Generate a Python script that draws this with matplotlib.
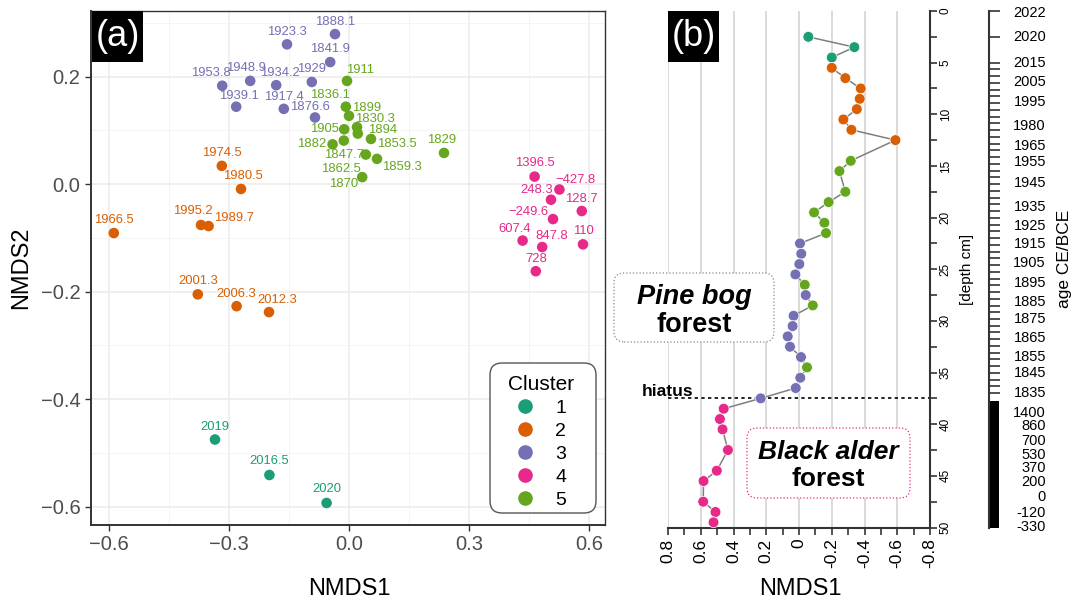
import numpy as np
import matplotlib
matplotlib.use("Agg")
import matplotlib.pyplot as plt
import matplotlib.transforms as mtransforms
from matplotlib.lines import Line2D
from matplotlib.patches import Rectangle, FancyBboxPatch

plt.rcParams['font.family'] = ['Liberation Sans', 'DejaVu Sans']

# cluster colours (Dark2)
colors = {1: '#1B9E77', 2: '#D95F02', 3: '#7570B3', 4: '#E7298A', 5: '#66A61E'}

# ---- panel (a): NMDS ordination ----
lab_a = ['2019', '2016.5', '2020',
         '1974.5', '1980.5', '1966.5', '1995.2', '1989.7', '2001.3', '2006.3', '2012.3',
         '1888.1', '1923.3', '1841.9', '1953.8', '1948.9', '1934.2', '1929', '1939.1', '1917.4', '1876.6',
         '1396.5', '−427.8', '248.3', '128.7', '−249.6', '607.4', '847.8', '110', '728',
         '1911', '1836.1', '1899', '1830.3', '1905', '1894', '1847.7', '1882', '1853.5', '1862.5',
         '1859.3', '1870', '1829']
cl_a = [1] * 3 + [2] * 8 + [3] * 10 + [4] * 9 + [5] * 13
x_a = [-0.335, -0.199, -0.056,
       -0.318, -0.270, -0.588, -0.370, -0.351, -0.378, -0.281, -0.200,
       -0.035, -0.155, -0.047, -0.317, -0.247, -0.182, -0.093, -0.282, -0.163, -0.085,
       0.464, 0.526, 0.505, 0.582, 0.510, 0.434, 0.483, 0.585, 0.467,
       -0.005, -0.008, 0.000, 0.020, -0.012, 0.022, -0.013, -0.041, 0.055, 0.042,
       0.070, 0.033, 0.2375]
y_a = [-0.475, -0.541, -0.593,
       0.034, -0.009, -0.091, -0.076, -0.078, -0.205, -0.227, -0.238,
       0.279, 0.260, 0.227, 0.183, 0.192, 0.184, 0.190, 0.144, 0.140, 0.124,
       0.014, -0.010, -0.029, -0.050, -0.065, -0.105, -0.117, -0.112, -0.162,
       0.192, 0.144, 0.127, 0.106, 0.102, 0.094, 0.081, 0.074, 0.084, 0.055,
       0.047, 0.013, 0.058]
# label offsets (pixels, right / up)
off_a = [(0, 13), (0, 13.5), (0, 14),
         (0, 13), (2, 13), (0, 13.5), (-8, 13.5), (25, 8.5), (0, 13), (0, 12.5), (8, 12.5),
         (0, 12.5), (0, 12.5), (0, 13), (-11, 13), (-4, 13), (4, 12), (0, 12.5), (3, 11), (0, 12), (-5, 10),
         (0, 14), (16, 10), (-14, 10), (0, 12.5), (-25, 7), (-8, 11.5), (10, 11.5), (0, 13.5), (0, 12),
         (13, 11), (-16, 11.5), (18, 7.5), (18, 8.5), (-20, 0), (25, 3.5), (0, -14.5), (-21, 0), (26, -5), (-25, -14),
         (25, -8.5), (-19, -6.5), (-2, 13)]

# ---- panel (b): NMDS1 along the core ----
depth_b = [2.5, 3.5, 4.5, 5.5, 6.5, 7.5, 8.5, 9.5, 10.5, 11.5, 12.5, 14.5, 15.5, 17.5,
           18.5, 19.5, 20.5, 21.5, 22.5, 23.5, 24.5, 25.5, 26.5, 27.5, 28.5, 29.5, 30.5,
           31.5, 32.5, 33.5, 34.5, 35.5, 36.5, 37.5, 38.5, 39.5, 40.5, 42.5, 44.5, 45.5,
           47.5, 48.5, 49.5]
nmds1_b = [-0.057, -0.338, -0.200, -0.200, -0.283, -0.377, -0.371, -0.353, -0.271, -0.320,
           -0.589, -0.316, -0.247, -0.283, -0.181, -0.092, -0.155, -0.165, -0.006, -0.014,
           -0.002, 0.022, -0.035, -0.041, -0.084, 0.033, 0.039, 0.069, 0.055, -0.012,
           -0.049, -0.008, 0.020, 0.234, 0.460, 0.483, 0.467, 0.434, 0.502, 0.583,
           0.585, 0.510, 0.522]
cl_b = [1, 1, 1, 2, 2, 2, 2, 2, 2, 2, 2, 5, 5, 5, 5, 5, 5, 5, 3, 3, 3, 3, 5, 3, 5, 3, 3,
        3, 3, 3, 5, 3, 3, 3, 4, 4, 4, 4, 4, 4, 4, 4, 4]

age_labels = ['2022', '2020', '2015', '2005', '1995', '1980', '1965', '1955', '1945', '1935',
              '1925', '1915', '1905', '1895', '1885', '1875', '1865', '1855', '1845', '1835',
              '1400', '860', '700', '530', '370', '200', '0', '-120', '-330']
age_depths = [0.16, 2.49, 5.06, 6.84, 8.78, 11.13, 13.04, 14.65, 16.68, 18.95,
              20.81, 22.58, 24.42, 26.3, 28.14, 29.85, 31.68, 33.47, 35.07, 37.0,
              38.95, 40.17, 41.6, 42.98, 44.27, 45.57, 47.02, 48.63, 49.98]
hiatus_depth = 37.5
bar_top = 37.8

W, H = 1073, 604
fig = plt.figure(figsize=(W / 100, H / 100), dpi=100)

# ---------------- panel (a) ----------------
ax1 = fig.add_axes([91 / W, 1 - 525 / H, (605 - 91) / W, (525 - 11) / H])
for k in range(1, 6):
    idx = [i for i, c in enumerate(cl_a) if c == k]
    ax1.scatter([x_a[i] for i in idx], [y_a[i] for i in idx], s=58, color=colors[k],
                edgecolors='none', zorder=3)
for i in range(len(lab_a)):
    ax1.annotate(lab_a[i], (x_a[i], y_a[i]), xytext=off_a[i], textcoords='offset pixels',
                 ha='center', va='center', fontsize=9.4, color=colors[cl_a[i]], zorder=4)

ax1.set_xlim(-0.645, 0.64)
ax1.set_ylim(-0.634, 0.322)
xt = [-0.6, -0.3, 0.0, 0.3, 0.6]
yt = [-0.6, -0.4, -0.2, 0.0, 0.2]
ax1.set_xticks(xt)
ax1.set_xticklabels([('%.1f' % v).replace('-', '−') for v in xt])
ax1.set_yticks(yt)
ax1.set_yticklabels([('%.1f' % v).replace('-', '−') for v in yt])
ax1.set_xticks([-0.45, -0.15, 0.15, 0.45], minor=True)
ax1.set_yticks([-0.5, -0.3, -0.1, 0.1, 0.3], minor=True)
ax1.tick_params(which='major', labelsize=14.5, colors='#333333', labelcolor='#4D4D4D',
                length=4, width=1)
ax1.tick_params(which='minor', length=0)
ax1.grid(which='major', color='#EBEBEB', lw=1.1)
ax1.grid(which='minor', color='#F3F3F3', lw=0.6)
ax1.set_axisbelow(True)
for s in ax1.spines.values():
    s.set_color('#333333')
    s.set_linewidth(1.0)
ax1.spines['left'].set_linewidth(1.4)
ax1.spines['bottom'].set_linewidth(1.4)

# legend: entries without frame, rounded box drawn behind them
handles = [Line2D([], [], marker='o', ls='', color=colors[k], markersize=9.5) for k in range(1, 6)]
leg = ax1.legend(handles, ['1', '2', '3', '4', '5'], title='Cluster', loc='upper center',
                 bbox_to_anchor=(541 / W, 1 - 375 / H), bbox_transform=fig.transFigure,
                 borderaxespad=0, borderpad=0, fontsize=14, title_fontsize=15,
                 handlelength=1.0, handletextpad=1.05, labelspacing=0.28, frameon=False)
leg.set_zorder(6)
ax1.add_artist(FancyBboxPatch((4.90, (H - 513) / 100), 1.06, 1.50,
                              boxstyle='round,pad=0,rounding_size=0.12',
                              transform=fig.dpi_scale_trans, facecolor='white',
                              edgecolor='#555555', lw=1.0, zorder=5, clip_on=False))

fig.text(349 / W, 1 - 589 / H, 'NMDS1', ha='center', va='center', fontsize=17)
fig.text(21 / W, 1 - 268 / H, 'NMDS2', ha='center', va='center', fontsize=17, rotation=90)

# ---------------- panel (b) ----------------
ax2 = fig.add_axes([668 / W, 1 - 527.5 / H, (930 - 668) / W, (527.5 - 11) / H])
ax2.plot(nmds1_b, depth_b, color='#7F7F7F', lw=1.1, zorder=2)
ax2.scatter(nmds1_b, depth_b, s=60, c=[colors[k] for k in cl_b], edgecolors='white',
            linewidths=0.5, zorder=3, clip_on=False)
ax2.set_xlim(0.8, -0.8)
ax2.set_ylim(50, 0)
bt = [0.8, 0.6, 0.4, 0.2, 0.0, -0.2, -0.4, -0.6, -0.8]
ax2.set_xticks(bt)
ax2.set_xticklabels(['0' if v == 0 else '%.1f' % v for v in bt], rotation=90)
ax2.set_xticks(np.arange(-0.7, 0.8, 0.2), minor=True)
ax2.tick_params(axis='x', which='both', length=5, width=1.2, color='#333333',
                labelsize=12.5, pad=3)
ax2.grid(axis='x', which='major', color='#CFCFCF', lw=1.1)
ax2.set_axisbelow(True)
ax2.yaxis.tick_right()
ax2.set_yticks(np.arange(0, 51, 5))
ax2.set_yticks(np.arange(2.5, 50, 5), minor=True)
ax2.tick_params(axis='y', which='both', length=5, width=1.2, color='#333333',
                labelsize=8.5, labelrotation=90, pad=2)
for lab in ax2.get_yticklabels():
    lab.set_va('center')
ax2.spines['left'].set_visible(False)
ax2.spines['top'].set_visible(False)
for s in ['bottom', 'right']:
    ax2.spines[s].set_color('#333333')
    ax2.spines[s].set_linewidth(1.5)

ax2.axhline(hiatus_depth, color='black', ls=(0, (2, 2)), lw=1.2, zorder=1)
ax2.annotate('hiatus', (0.8, hiatus_depth), xytext=(0, 2), textcoords='offset pixels',
             ha='center', va='baseline', fontsize=12.5, fontweight='bold',
             annotation_clip=False)

fig.text(800 / W, 1 - 589 / H, 'NMDS1', ha='center', va='center', fontsize=17)
fig.text(967 / W, 1 - 269 / H, '[depth cm]', ha='center', va='center', fontsize=11,
         rotation=90)

# age axis
ax3 = fig.add_axes([989 / W, 1 - 527.5 / H, 10 / W, (527.5 - 11) / H])
ax3.set_xlim(0, 1)
ax3.set_ylim(50, 0)
ax3.fill_betweenx([bar_top, 50], 0, 1, color='black', lw=0)
ax3.set_xticks([])
ax3.set_yticks([0, 2.5] + list(np.linspace(5, 37, 50)))
ax3.tick_params(axis='y', direction='in', length=8, width=1.2, color='#333333',
                labelleft=False)
for s in ['top', 'right', 'bottom']:
    ax3.spines[s].set_visible(False)
ax3.spines['left'].set_color('#333333')
ax3.spines['left'].set_linewidth(1.5)
ax3.patch.set_visible(False)
tr = mtransforms.blended_transform_factory(fig.transFigure, ax3.transData)
for lab, d in zip(age_labels, age_depths):
    ax3.text(1046 / W, d, lab, transform=tr, ha='right', va='center', fontsize=10.5,
             clip_on=False)
fig.text(1064 / W, 1 - 259 / H, 'age CE/BCE', ha='center', va='center', fontsize=12.5,
         rotation=90)

# forest boxes
fig.add_artist(FancyBboxPatch((6.14, (H - 342) / 100), 1.60, 0.69,
                              boxstyle='round,pad=0,rounding_size=0.1',
                              transform=fig.dpi_scale_trans, facecolor='white',
                              edgecolor='#888888', lw=0.9, ls=':'))
fig.text(694 / W, 1 - 297 / H, 'Pine bog', ha='center', va='center', fontsize=19.5,
         fontweight='bold', fontstyle='italic')
fig.text(694 / W, 1 - 325 / H, 'forest', ha='center', va='center', fontsize=19.5,
         fontweight='bold')
fig.add_artist(FancyBboxPatch((7.47, (H - 498) / 100), 1.63, 0.70,
                              boxstyle='round,pad=0,rounding_size=0.1',
                              transform=fig.dpi_scale_trans, facecolor='white',
                              edgecolor='#E7298A', lw=0.9, ls=':'))
fig.text(828 / W, 1 - 452 / H, 'Black alder', ha='center', va='center', fontsize=19,
         fontweight='bold', fontstyle='italic')
fig.text(828 / W, 1 - 479 / H, 'forest', ha='center', va='center', fontsize=19,
         fontweight='bold')

# panel tags
for x0, tag in [(92, '(a)'), (668, '(b)')]:
    fig.add_artist(Rectangle((x0 / W, 1 - 62 / H), 51 / W, 51 / H, transform=fig.transFigure,
                             facecolor='black', edgecolor='none'))
    fig.text((x0 + 25.5) / W, 1 - 37 / H, tag, ha='center', va='center', fontsize=26,
             color='white')

fig.savefig('out.png', dpi=100)
